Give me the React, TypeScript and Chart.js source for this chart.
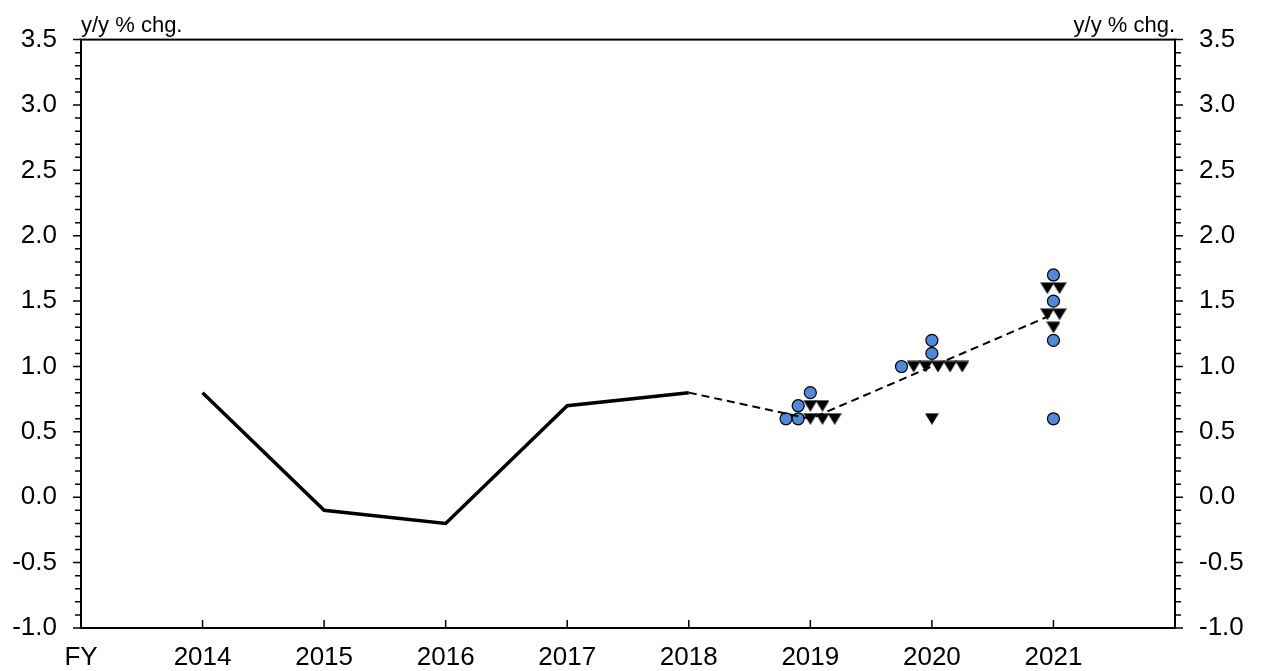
import { useEffect, useRef } from 'react';
import { Chart, registerables } from 'chart.js';

Chart.register(...registerables);

// ---- data ----
const actualYears = [2014, 2015, 2016, 2017, 2018];
const actualValues = [0.8, -0.1, -0.2, 0.7, 0.8];

const medianYears = [2018, 2019, 2020, 2021];
const medianValues = [0.8, 0.6, 1.0, 1.4];

const circleX = [2018.8, 2018.9, 2018.9, 2019.0, 2019.75, 2020.0, 2020.0, 2021.0, 2021.0, 2021.0, 2021.0];
const circleY = [0.6, 0.6, 0.7, 0.8, 1.0, 1.1, 1.2, 1.7, 1.5, 1.2, 0.6];

const triangleX = [2019.0, 2019.1, 2019.2, 2019.0, 2019.1, 2019.85, 2019.95, 2020.05, 2020.15, 2020.25, 2020.0, 2020.95, 2021.05, 2020.95, 2021.05, 2021.0];
const triangleY = [0.6, 0.6, 0.6, 0.7, 0.7, 1.0, 1.0, 1.0, 1.0, 1.0, 0.6, 1.6, 1.6, 1.4, 1.4, 1.3];

const xTickValues = [2013, 2014, 2015, 2016, 2017, 2018, 2019, 2020, 2021, 2022];
const xTickLabels = ['FY', '2014', '2015', '2016', '2017', '2018', '2019', '2020', '2021', ''];
const xMarkedYears = [2014, 2015, 2016, 2017, 2018, 2019, 2020, 2021];

const yMin = -1;
const yMax = 3.5;
const yStep = 0.5;
const yMinorStep = 0.1;
const axisTitle = 'y/y % chg.';

const FONT = 'Arial, "Liberation Sans", sans-serif';

function makeTriangle(): HTMLCanvasElement {
  const c = document.createElement('canvas');
  c.width = 14;
  c.height = 12;
  const g = c.getContext('2d')!;
  g.fillStyle = '#000';
  g.beginPath();
  g.moveTo(0, 0.5);
  g.lineTo(14, 0.5);
  g.lineTo(7, 12);
  g.closePath();
  g.fill();
  return c;
}

const framePlugin = {
  id: 'frame',
  afterDraw(chart: any) {
    const { ctx, chartArea, scales } = chart;
    const { left, right, top, bottom } = chartArea;
    const ys = scales.y;
    const xs = scales.x;
    ctx.save();
    ctx.strokeStyle = '#000';
    ctx.lineWidth = 2;
    ctx.strokeRect(left, top, right - left, bottom - top);
    ctx.lineWidth = 1.5;
    const n = Math.round((yMax - yMin) / yMinorStep);
    const per = Math.round(yStep / yMinorStep);
    for (let i = 0; i <= n; i++) {
      const v = yMin + i * yMinorStep;
      const py = ys.getPixelForValue(v);
      const len = i % per === 0 ? 8 : 6;
      ctx.beginPath();
      ctx.moveTo(left - len, py);
      ctx.lineTo(left, py);
      ctx.moveTo(right, py);
      ctx.lineTo(right + len, py);
      ctx.stroke();
    }
    for (const v of xMarkedYears) {
      const px = xs.getPixelForValue(v);
      ctx.beginPath();
      ctx.moveTo(px, bottom);
      ctx.lineTo(px, bottom - 8);
      ctx.stroke();
    }
    ctx.fillStyle = '#000';
    ctx.font = '22px ' + FONT;
    ctx.textBaseline = 'alphabetic';
    ctx.textAlign = 'left';
    ctx.fillText(axisTitle, left, top - 8);
    ctx.textAlign = 'right';
    ctx.fillText(axisTitle, right, top - 8);
    ctx.restore();
  },
};

export default function App() {
  const ref = useRef<HTMLCanvasElement | null>(null);

  useEffect(() => {
    if (!ref.current) return;
    const tri = makeTriangle();
    const tickFont = { family: FONT, size: 26 };
    const chart = new Chart(ref.current, {
      type: 'scatter',
      data: {
        datasets: [
          {
            label: 'median',
            data: medianYears.map((x, i) => ({ x, y: medianValues[i] })),
            showLine: true,
            borderColor: '#000',
            borderWidth: 2,
            borderDash: [8, 5],
            pointRadius: 0,
            fill: false,
          },
          {
            label: 'actual',
            data: actualYears.map((x, i) => ({ x, y: actualValues[i] })),
            showLine: true,
            borderColor: '#000',
            borderWidth: 3.5,
            pointRadius: 0,
            fill: false,
          },
          {
            label: 'triangles',
            data: triangleX.map((x, i) => ({ x, y: triangleY[i] })),
            pointStyle: tri as any,
            pointRadius: 6,
            showLine: false,
          },
          {
            label: 'circles',
            data: circleX.map((x, i) => ({ x, y: circleY[i] })),
            pointStyle: 'circle',
            pointRadius: 6,
            backgroundColor: '#5089D8',
            borderColor: '#000',
            borderWidth: 1.2,
            showLine: false,
          },
        ],
      },
      options: {
        responsive: false,
        animation: false,
        layout: { padding: { top: 39, left: 0, right: 0, bottom: 0 } },
        plugins: {
          legend: { display: false },
          tooltip: { enabled: false },
        },
        scales: {
          x: {
            type: 'linear',
            position: 'bottom',
            min: xTickValues[0],
            max: xTickValues[xTickValues.length - 1],
            afterBuildTicks: (scale: any) => {
              scale.ticks = xTickValues.map((v) => ({ value: v }));
            },
            afterFit: (scale: any) => {
              scale.height = 43;
            },
            grid: { display: false, drawTicks: false },
            border: { display: false },
            ticks: {
              autoSkip: false,
              maxRotation: 0,
              padding: 14,
              color: '#000',
              font: tickFont,
              callback: (value: any) => {
                const idx = xTickValues.indexOf(Number(value));
                return idx >= 0 ? xTickLabels[idx] : '';
              },
            },
          },
          y: {
            type: 'linear',
            position: 'left',
            min: yMin,
            max: yMax,
            afterFit: (scale: any) => {
              scale.width = 81;
            },
            grid: { display: false, drawTicks: false },
            border: { display: false },
            ticks: {
              stepSize: yStep,
              autoSkip: false,
              padding: 24,
              color: '#000',
              font: tickFont,
              callback: (v: any) => Number(v).toFixed(1),
            },
          },
          y2: {
            type: 'linear',
            position: 'right',
            min: yMin,
            max: yMax,
            afterFit: (scale: any) => {
              scale.width = 86;
            },
            grid: { display: false, drawTicks: false },
            border: { display: false },
            ticks: {
              stepSize: yStep,
              autoSkip: false,
              padding: 24,
              color: '#000',
              font: tickFont,
              callback: (v: any) => Number(v).toFixed(1),
            },
          },
        },
      },
      plugins: [framePlugin],
    });
    return () => chart.destroy();
  }, []);

  return (
    <div style={{ position: 'absolute', left: 0, top: 0, width: 1261, height: 671, background: '#fff' }}>
      <canvas ref={ref} width={1261} height={671} style={{ display: 'block' }} />
    </div>
  );
}
